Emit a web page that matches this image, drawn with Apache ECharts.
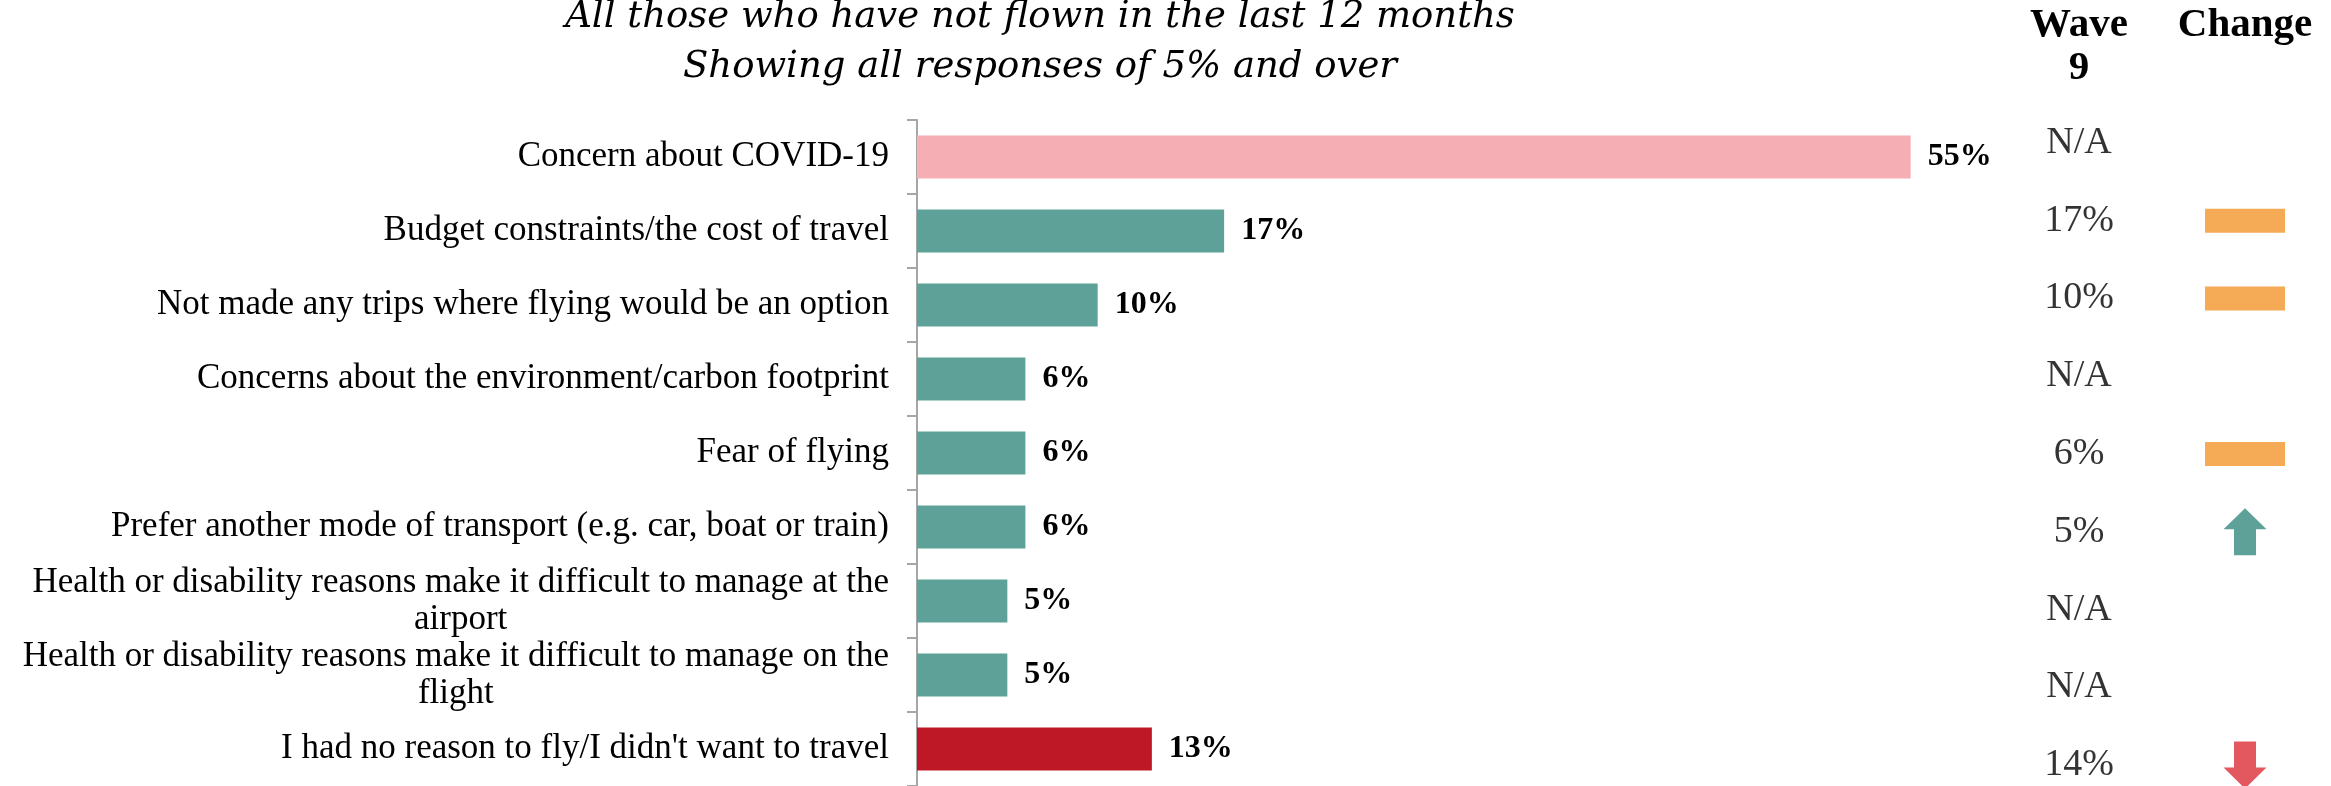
<!DOCTYPE html>
<html>
<head>
<meta charset="utf-8">
<title>Reasons for not flying</title>
<script src="https://cdn.jsdelivr.net/npm/echarts@6/dist/echarts.min.js"></script>
<style>
  html, body { margin: 0; padding: 0; background: #fff; }
  #chart { width: 2331px; height: 786px; }
</style>
</head>
<body>
<div id="chart"></div>
<script>
// data
const categories = [
  'Concern about COVID-19',
  'Budget constraints/the cost of travel',
  'Not made any trips where flying would be an option',
  'Concerns about the environment/carbon footprint',
  'Fear of flying',
  'Prefer another mode of transport (e.g. car, boat or train)',
  'Health or disability reasons make it difficult to manage at the\nairport',
  'Health or disability reasons make it difficult to manage on the\nflight',
  "I had no reason to fly/I didn't want to travel"
]
const values = [55, 17, 10, 6, 6, 6, 5, 5, 13]
const wave9 = ['N/A', '17%', '10%', 'N/A', '6%', '5%', 'N/A', 'N/A', '14%']
const changes = [null, 'same', 'same', null, 'same', 'up', null, null, 'down']
const columns = ['Wave\n9', 'Change']
const titleLines = [
  'All those who have not flown in the last 12 months',
  'Showing all responses of 5% and over'
]

const SERIF = '"Liberation Serif", Georgia, serif'
const Colors = {
  first: '#F5AEB4',
  main: '#5EA198',
  last: '#BE1826',
  same: '#F5AA55',
  up: '#5EA198',
  down: '#E2585E'
}
const Symbols = {
  same: { symbol: 'rect', size: [80, 24] },
  up: { symbol: 'path://M21.5,0L43,21L32.5,21L32.5,47L10.5,47L10.5,21L0,21Z', size: [43, 47] },
  down: { symbol: 'path://M10.5,0L32.5,0L32.5,26L43,26L21.5,47L0,26L10.5,26Z', size: [43, 47] }
}
const axisGrey = '#A6A6A6'

var myChart = echarts.init(document.getElementById('chart'), null, { renderer: 'canvas' })

var option = {
  animation: false,
  title: {
    text: titleLines.join('\n'),
    left: 1035,
    top: -13,
    textAlign: 'center',
    textStyle: {
      fontFamily: '"DejaVu Serif", serif',
      fontStyle: 'italic',
      fontWeight: 'normal',
      fontSize: 37,
      lineHeight: 50,
      color: '#000'
    }
  },
  grid: [
    { left: 917, top: 120, width: 1084, bottom: 0, outerBoundsMode: 'none' },
    { left: 1996, top: 104, width: 332, height: 700, outerBoundsMode: 'none' }
  ],
  xAxis: [
    { gridIndex: 0, type: 'value', min: 0, max: 60, show: false },
    {
      gridIndex: 1,
      type: 'category',
      position: 'top',
      data: columns,
      axisLine: { show: false },
      axisTick: { show: false },
      splitLine: { show: false },
      axisLabel: {
        interval: 0,
        margin: 14,
        color: '#000',
        fontFamily: SERIF,
        fontWeight: 'bold',
        fontSize: 41,
        lineHeight: 43,
        // single-line headers sit on the first line like "Wave"
        formatter: v => (v.indexOf('\n') >= 0 ? v : v + '\n ')
      }
    }
  ],
  yAxis: [
    {
      gridIndex: 0,
      type: 'category',
      inverse: true,
      data: categories,
      axisLine: { show: true, lineStyle: { color: axisGrey, width: 2 } },
      axisTick: { show: true, length: 10, lineStyle: { color: axisGrey, width: 2 } },
      splitLine: { show: false },
      axisLabel: {
        interval: 0,
        margin: 28,
        formatter: v => v.split('\n').map(s => '{c|' + s + '}').join('\n'),
        rich: {
          c: {
            align: 'center',
            color: '#000',
            fontFamily: SERIF,
            fontSize: 35,
            lineHeight: 37
          }
        }
      }
    },
    {
      gridIndex: 1,
      type: 'category',
      inverse: true,
      data: categories,
      show: false
    }
  ],
  series: [
    {
      type: 'bar',
      xAxisIndex: 0,
      yAxisIndex: 0,
      data: values,
      barWidth: 43,
      itemStyle: {
        color: p => (p.dataIndex === 0 ? Colors.first : p.dataIndex === values.length - 1 ? Colors.last : Colors.main)
      },
      label: {
        show: true,
        position: 'right',
        distance: 17,
        formatter: '{c}%',
        color: '#000',
        fontFamily: SERIF,
        fontWeight: 'bold',
        fontSize: 32
      }
    },
    {
      type: 'scatter',
      xAxisIndex: 1,
      yAxisIndex: 1,
      symbolSize: 1,
      itemStyle: { color: 'rgba(0,0,0,0)' },
      data: wave9.map((t, i) => ({ name: t, value: [0, i] })),
      label: {
        show: true,
        position: 'inside',
        formatter: p => p.name,
        color: '#000',
        fontFamily: SERIF,
        fontSize: 38
      }
    },
    {
      type: 'scatter',
      xAxisIndex: 1,
      yAxisIndex: 1,
      itemStyle: { opacity: 1 },
      data: changes
        .map((c, i) => (c ? {
          value: [1, i],
          symbol: Symbols[c].symbol,
          symbolSize: Symbols[c].size,
          itemStyle: { color: Colors[c], opacity: 1 }
        } : null))
        .filter(Boolean)
    }
  ]
}

myChart.setOption(option, true)
</script>
</body>
</html>
